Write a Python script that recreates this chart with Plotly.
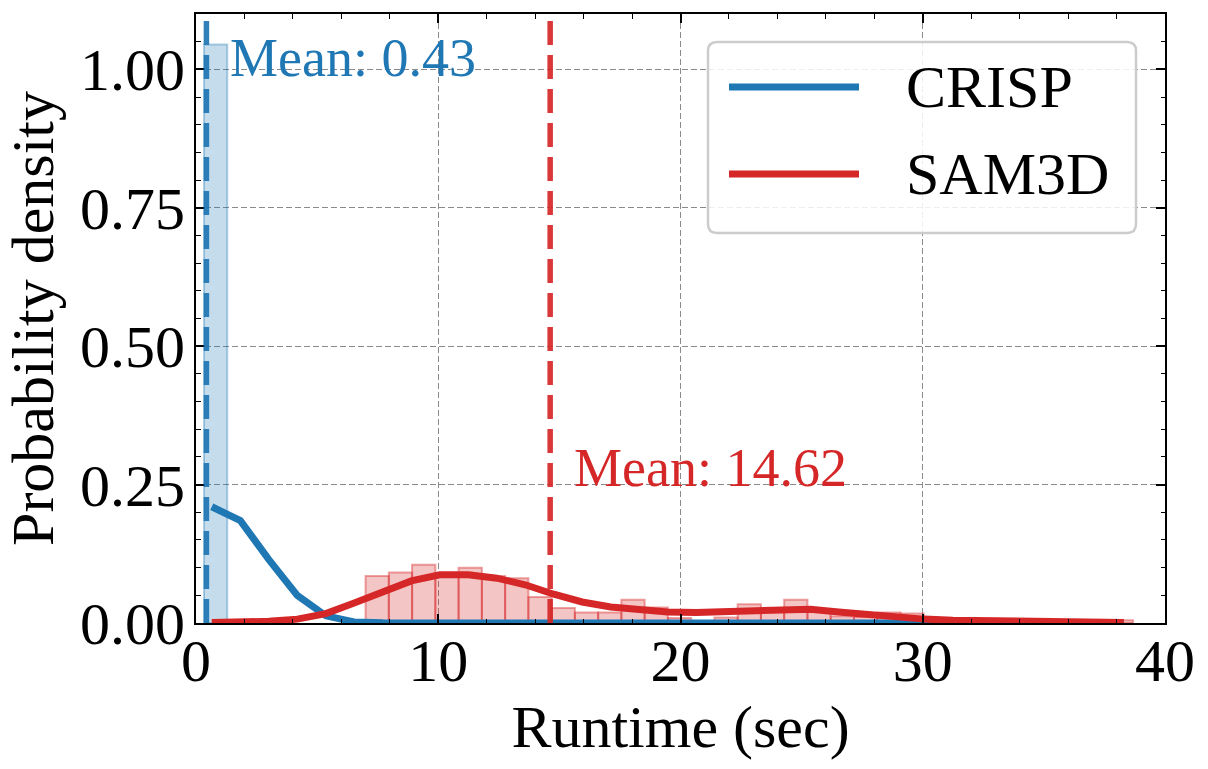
import numpy as np
import plotly.graph_objects as go

# ---------------- data ----------------
crisp_mean = 0.43
sam_mean = 14.62

bin_width = 0.96
crisp_bin_start = 0.33
crisp_density = [1.045]

sam_bin_start = 7.0
sam_density = [0.085, 0.091, 0.105, 0.088, 0.100, 0.085, 0.081, 0.047,
               0.027, 0.019, 0.019, 0.042, 0.028, 0.009, 0.0, 0.010,
               0.034, 0.025, 0.042, 0.022, 0.012, 0.011, 0.019, 0.017,
               0.007, 0.008, 0.004, 0.003, 0.007, 0.003, 0.002, 0.002, 0.005]

kde_x = [0.65, 1.83, 3.0, 4.18, 5.36, 6.53, 7.71, 8.89, 10.06, 11.24, 12.42,
         13.59, 14.77, 15.94, 17.12, 18.3, 19.47, 20.65, 21.83, 23.0, 24.18,
         25.36, 26.53, 27.71, 28.89, 30.06, 31.24, 32.42, 33.59, 34.77, 35.95,
         37.12, 38.3]
crisp_kde = [0.21, 0.185, 0.115, 0.05, 0.013, 0.002, 0.0003, 0.0, 0.0, 0.0, 0.0,
             0.0, 0.0, 0.0, 0.0, 0.0, 0.0, 0.0, 0.0, 0.0, 0.0,
             0.0, 0.0, 0.0, 0.0, 0.0, 0.0, 0.0, 0.0, 0.0, 0.0, 0.0, 0.0]
sam_kde = [0.001, 0.0015, 0.003, 0.007, 0.017, 0.036, 0.057, 0.076, 0.087,
           0.087, 0.081, 0.069, 0.052, 0.038, 0.029, 0.023, 0.02, 0.019, 0.021,
           0.024, 0.026, 0.025, 0.02, 0.015, 0.01, 0.007, 0.005, 0.004, 0.003,
           0.0025, 0.002, 0.0015, 0.001]

series_names = ["CRISP", "SAM3D"]
x_ticks = [0, 10, 20, 30, 40]
y_ticks = [0.0, 0.25, 0.5, 0.75, 1.0]
y_tick_labels = ["0.00", "0.25", "0.50", "0.75", "1.00"]

BLUE = "#1f77b4"
RED = "#d62728"
FONT = "Liberation Serif"

# ---------------- figure ----------------
W, H = 1208, 769
ML, MR, MT, MB = 196, 43, 14, 146
PW, PH = W - ML - MR, H - MT - MB

fig = go.Figure()

crisp_centers = crisp_bin_start + bin_width * (np.arange(len(crisp_density)) + 0.5)
sam_centers = sam_bin_start + bin_width * (np.arange(len(sam_density)) + 0.5)

fig.add_trace(go.Bar(x=crisp_centers, y=crisp_density, width=bin_width,
                     marker=dict(color="rgba(31,119,180,0.26)",
                                 line=dict(color="rgba(31,119,180,0.35)", width=2)),
                     showlegend=False, hoverinfo="skip"))
fig.add_trace(go.Bar(x=sam_centers, y=sam_density, width=bin_width,
                     marker=dict(color="rgba(214,39,40,0.27)",
                                 line=dict(color="rgba(214,39,40,0.42)", width=2)),
                     showlegend=False, hoverinfo="skip"))

fig.add_trace(go.Scatter(x=kde_x, y=crisp_kde, mode="lines",
                         line=dict(color=BLUE, width=7), name=series_names[0],
                         showlegend=False))
fig.add_trace(go.Scatter(x=kde_x, y=sam_kde, mode="lines",
                         line=dict(color=RED, width=7), name=series_names[1],
                         showlegend=False))

# mean lines
for m, c in [(crisp_mean, BLUE), (sam_mean, RED)]:
    fig.add_shape(type="line", x0=m, x1=m, y0=0, y1=1, xref="x", yref="paper",
                  line=dict(color=c, width=5.5, dash="24px,10px"), opacity=0.92,
                  layer="above")

fig.add_annotation(x=crisp_mean + 0.89, y=1.02, xref="x", yref="y",
                   text=f"Mean: {crisp_mean:.2f}", showarrow=False,
                   xanchor="left", yanchor="middle",
                   font=dict(family=FONT, size=54, color=BLUE))
fig.add_annotation(x=sam_mean + 0.89, y=0.28, xref="x", yref="y",
                   text=f"Mean: {sam_mean:.2f}", showarrow=False,
                   xanchor="left", yanchor="middle",
                   font=dict(family=FONT, size=54, color=RED))

# ---------------- manual legend ----------------
def px2x(px):
    return (px - ML) / PW

def py2y(py):
    return (MT + PH - py) / PH

bx0, bx1, by0, by1 = 708, 1136, 42, 233
r = 9
rx, ry = r / PW, r / PH
X0, X1, Y0, Y1 = px2x(bx0), px2x(bx1), py2y(by1), py2y(by0)
path = (f"M {X0+rx},{Y0} L {X1-rx},{Y0} Q {X1},{Y0} {X1},{Y0+ry} "
        f"L {X1},{Y1-ry} Q {X1},{Y1} {X1-rx},{Y1} L {X0+rx},{Y1} "
        f"Q {X0},{Y1} {X0},{Y1-ry} L {X0},{Y0+ry} Q {X0},{Y0} {X0+rx},{Y0} Z")
fig.add_shape(type="path", path=path, xref="paper", yref="paper",
              fillcolor="rgba(255,255,255,0.85)",
              line=dict(color="#cccccc", width=2.5), layer="above")
for name, col, py in [(series_names[0], BLUE, 87), (series_names[1], RED, 174)]:
    fig.add_shape(type="line", x0=px2x(729), x1=px2x(859), y0=py2y(py), y1=py2y(py),
                  xref="paper", yref="paper", line=dict(color=col, width=7),
                  layer="above")
    fig.add_annotation(x=px2x(904), y=py2y(py), xref="paper", yref="paper",
                       text=name, showarrow=False, xanchor="left", yanchor="middle",
                       font=dict(family=FONT, size=60, color="black"))

axis_common = dict(
    showline=True, linecolor="black", linewidth=2, mirror="allticks",
    ticks="inside", ticklen=9, tickwidth=1.8, tickcolor="black",
    showgrid=True, gridcolor="#8a8a8a", gridwidth=1.2, griddash="6px,3px",
    zeroline=False, automargin=False,
    tickfont=dict(family=FONT, size=60, color="black"),
    title_font=dict(family=FONT, size=60, color="black"),
)

fig.update_xaxes(range=[0, 40], tickvals=x_ticks, ticktext=[str(v) for v in x_ticks],
                 minor=dict(dtick=2, ticks="inside", ticklen=4.5, tickwidth=1.4,
                            tickcolor="black", showgrid=False),
                 title_text="Runtime (sec)", title_standoff=1,
                 ticklabelstandoff=-16, **axis_common)
fig.update_yaxes(range=[0, 1.1], tickvals=y_ticks, ticktext=y_tick_labels,
                 minor=dict(dtick=0.05, ticks="inside", ticklen=4.5, tickwidth=1.4,
                            tickcolor="black", showgrid=False),
                 title_text="Probability density", title_standoff=8,
                 ticklabelstandoff=-3, **axis_common)

fig.update_layout(
    width=W, height=H, barmode="overlay",
    margin=dict(l=ML, r=MR, t=MT, b=MB, pad=0),
    plot_bgcolor="white", paper_bgcolor="white",
    showlegend=False,
    font=dict(family=FONT, color="black"),
)

fig.write_html("out.html")
